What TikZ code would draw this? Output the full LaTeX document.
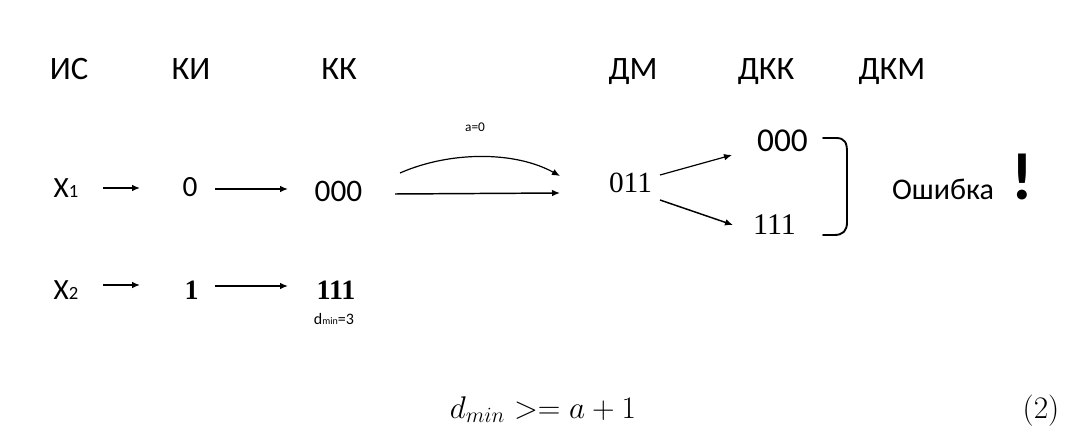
\documentclass[tikz,border=0pt]{standalone}
\usepackage{fontspec}
\usepackage{graphicx}
\setmainfont{Carlito}
\newfontfamily\sernum{Liberation Serif}
\usetikzlibrary{arrows.meta,calc}
\tikzset{
  lbl/.style={inner sep=0pt, anchor=base, font=\fontsize{22}{24}\selectfont},
  hdr/.style={lbl, font=\fontsize{24.5}{26}\selectfont},
  arr/.style={line width=1.1pt, -{Latex[length=6pt,width=5pt]}},
  thin arr/.style={line width=0.9pt, -{Latex[length=6pt,width=5pt]}},
  mathlbl/.style={inner sep=0pt, anchor=base},
}
\begin{document}
\begin{tikzpicture}[x=0.75pt,y=-0.75pt]
\useasboundingbox (0,0) rectangle (1091,434);
% headers
\node[hdr] (hIS)  at (69,80)  {ИС};
\node[hdr] (hKI)  at (191,80) {КИ};
\node[hdr] (hKK)  at (339,80) {КК};
\node[hdr] (hDM)  at (633,80) {ДМ};
\node[hdr] (hDKK) at (766,80) {ДКК};
\node[hdr] (hDKM) at (892,80) {ДКМ};
% row 1
\node[lbl] (x1)  at (66,198)    {X{\fontsize{14}{15}\selectfont 1}};
\node[lbl] (k0)  at (190,197)   {0};
\node[lbl,font=\fontsize{23.5}{25}\selectfont] (kk0) at (338.5,202) {000};
% row 2
\node[lbl] (x2)  at (66,300)    {X{\fontsize{14}{15}\selectfont 2}};
\node[lbl,font=\sernum\bfseries\fontsize{21}{22}\selectfont] (k1)  at (191.5,300) {1};
\node[lbl,font=\sernum\bfseries\fontsize{21}{22}\selectfont] (kk1) at (336,300)   {111};
\node[lbl,font=\fontsize{12}{13}\selectfont] (dmin) at (334,325) {d{\fontsize{7.5}{8}\selectfont min}=3};
% channel
\node[lbl,font=\fontsize{10}{11}\selectfont] (a0) at (475,132) {a=0};
\node[lbl,font=\sernum\fontsize{22}{24}\selectfont] (dm) at (630.5,193) {011};
\node[lbl,font=\fontsize{25}{27}\selectfont] (d0) at (782.5,152) {000};
\node[lbl,font=\sernum\fontsize{22.5}{24}\selectfont] (d1) at (774.5,235) {111};
\node[lbl,font=\fontsize{22.5}{24}\selectfont] (err) at (943,200) {Ошибка};
\node[lbl,font=\bfseries\fontsize{50}{52}\selectfont] (excl) at (1022,200) {!};
% arrows
\draw[arr] ($(x1.base)+(37,-10)$) -- ($(k0.base)+(-50,-9)$);
\draw[arr] ($(k0.base)+(25,-8)$) -- ($(kk0.base)+(-50.5,-13)$);
\draw[arr] ($(x2.base)+(37,-15)$) -- ($(k1.base)+(-51.5,-15)$);
\draw[arr] ($(k1.base)+(23.5,-14)$) -- ($(kk1.base)+(-48,-14)$);
\draw[thin arr] ($(kk0.base)+(61.5,-29)$) .. controls (450,151) and (515,151) .. ($(dm.base)+(-70.5,-17)$);
\draw[arr] ($(kk0.base)+(56.5,-8)$) -- ($(dm.base)+(-70.5,0)$);
\draw[thin arr] ($(dm.base)+(29.5,-18)$) -- ($(d0.base)+(-50.5,3)$);
\draw[arr] ($(dm.base)+(29.5,7)$) -- ($(d1.base)+(-41.5,-10)$);
% bracket
\draw[line width=1.4pt, line cap=round] (823,138) -- (836,138) .. controls (845,138) and (847,143) .. (847,152)
  -- (847,222) .. controls (847,231) and (843,235) .. (834,235) -- (823,235);
% formula
\node[mathlbl] (form) at (543,418) {\scalebox{1.36}{\fontsize{18.75}{20}\selectfont$d_{min} >= a+1$}};
\node[mathlbl] (eqn) at (1041,418) {\scalebox{1.36}{\fontsize{18.75}{20}\selectfont$(2)$}};
\end{tikzpicture}
\end{document}
